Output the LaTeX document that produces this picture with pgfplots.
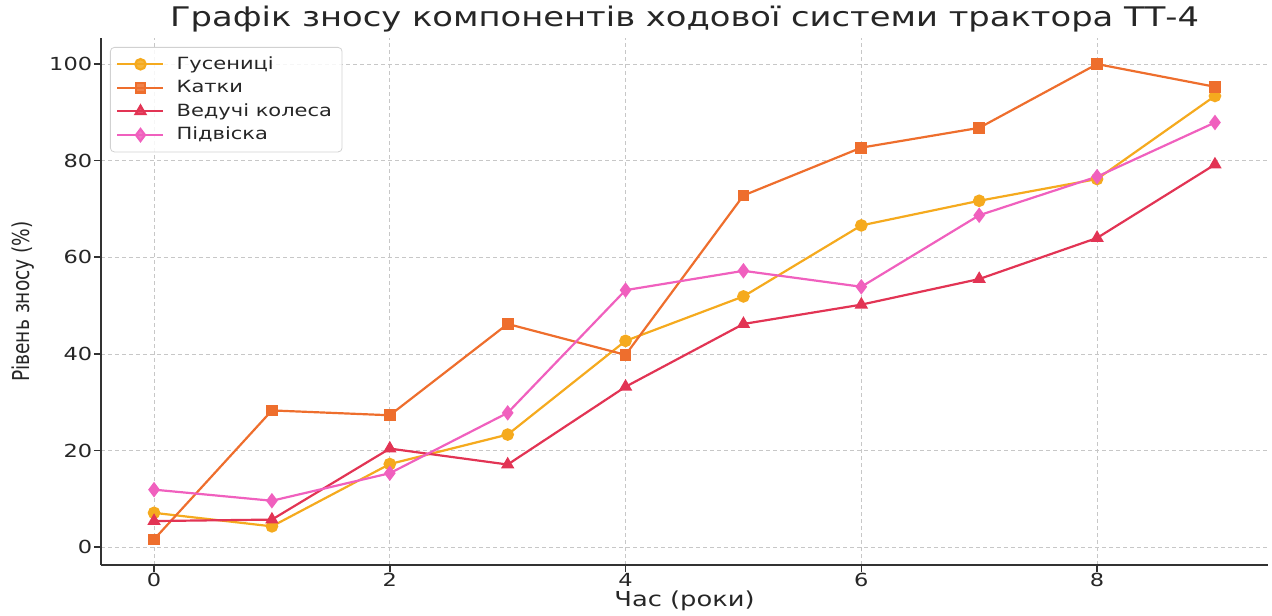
\documentclass[border=0pt]{standalone}
\usepackage{fontspec}
\setmainfont{DejaVu Sans}
\usepackage{pgfplots}
\pgfplotsset{compat=1.18}

\definecolor{cTracks}{RGB}{245,170,30}
\definecolor{cRollers}{RGB}{238,110,45}
\definecolor{cWheels}{RGB}{226,52,84}
\definecolor{cSusp}{RGB}{240,96,190}
\definecolor{cSpine}{RGB}{50,50,50}

\begin{document}
\begin{tikzpicture}
\begin{axis}[
  name=ax,
  scale only axis,
  width=583.5pt, height=263.5pt,
  xmin=-0.45, xmax=9.45,
  ymin=-3.7, ymax=105.4,
  axis x line=bottom, axis y line=left,
  axis line style={-, draw=cSpine, line width=0.8pt},
  xtick={0,2,4,6,8},
  ytick={0,20,40,60,80,100},
  tick align=outside,
  major tick length=3.5pt,
  tick style={draw=cSpine, line width=0.8pt},
  grid=major,
  grid style={dash pattern=on 2pt off 1.5pt, draw=black!22, line width=0.4pt},
  /pgf/number format/assume math mode=true,
  xticklabel style={yshift=3pt, font=\fontsize{9}{11}\selectfont, text=black!85, xscale=1.25},
  yticklabel style={xshift=3.5pt, font=\fontsize{9}{11}\selectfont, text=black!85, xscale=1.25},
  xlabel={\scalebox{1.25}[1]{Час (роки)}},
  xlabel style={at={([yshift=-18pt]axis description cs:0.5,0)}, anchor=center,
    font=\fontsize{10.3}{12}\selectfont, text=black!85},
  ylabel={\scalebox{1}[1.25]{Рівень зносу (\%)}},
  ylabel style={at={([xshift=-39pt]axis description cs:0,0.5)}, anchor=center,
    font=\fontsize{9.3}{11}\selectfont, text=black!85},
  every axis title shift=0pt,
  title={\scalebox{1.25}[1]{Графік зносу компонентів ходової системи трактора ТТ-4}},
  title style={at={([yshift=9.5pt]axis description cs:0.5,1)}, anchor=center,
    font=\fontsize{13.5}{16}\selectfont, text=black!85},
  legend cell align=left,
  legend style={at={([xshift=4.5pt,yshift=-4.5pt]axis description cs:0,1)},
    anchor=north west, draw=black!18, fill=white, fill opacity=0.85, text opacity=1,
    rounded corners=2pt, font=\fontsize{8.4}{10}\selectfont, text=black!85,
    row sep=0pt, inner xsep=3pt, inner ysep=2.5pt,
    /tikz/every odd column/.append style={column sep=4pt}},
  legend image code/.code={\draw[mark repeat=2,mark phase=2]
    plot coordinates {(0pt,0pt)(11.5pt,0pt)(23pt,0pt)};},
  every axis plot/.append style={line width=1.1pt, mark size=2.6pt},
]
% Гусениці
\addplot[color=cTracks, mark=*, mark options={solid, fill=cTracks}] coordinates {
  (0,7.1) (1,4.3) (2,17.2) (3,23.3) (4,42.7) (5,51.9) (6,66.6) (7,71.7) (8,76.2) (9,93.4)};
\addlegendentry{\scalebox{1.25}[1]{Гусениці}}
% Катки
\addplot[color=cRollers, mark=square*, mark options={solid, fill=cRollers}, mark size=2.4pt] coordinates {
  (0,1.6) (1,28.3) (2,27.3) (3,46.2) (4,39.8) (5,72.8) (6,82.7) (7,86.8) (8,100.0) (9,95.3)};
\addlegendentry{\scalebox{1.25}[1]{Катки}}
% Ведучі колеса
\addplot[color=cWheels, mark=triangle*, mark options={solid, fill=cWheels}, mark size=2.8pt] coordinates {
  (0,5.4) (1,5.7) (2,20.4) (3,17.1) (4,33.2) (5,46.2) (6,50.2) (7,55.5) (8,64.0) (9,79.2)};
\addlegendentry{\scalebox{1.25}[1]{Ведучі колеса}}
% Підвіска
\addplot[color=cSusp, mark=diamond*, mark options={solid, fill=cSusp}, mark size=3pt] coordinates {
  (0,11.9) (1,9.6) (2,15.3) (3,27.8) (4,53.2) (5,57.2) (6,53.9) (7,68.7) (8,76.7) (9,87.9)};
\addlegendentry{\scalebox{1.25}[1]{Підвіска}}
\end{axis}
\pgfresetboundingbox
\path ([xshift=-50.5pt,yshift=-25pt]ax.south west) rectangle ([xshift=2pt,yshift=19pt]ax.north east);
\end{tikzpicture}
\end{document}
